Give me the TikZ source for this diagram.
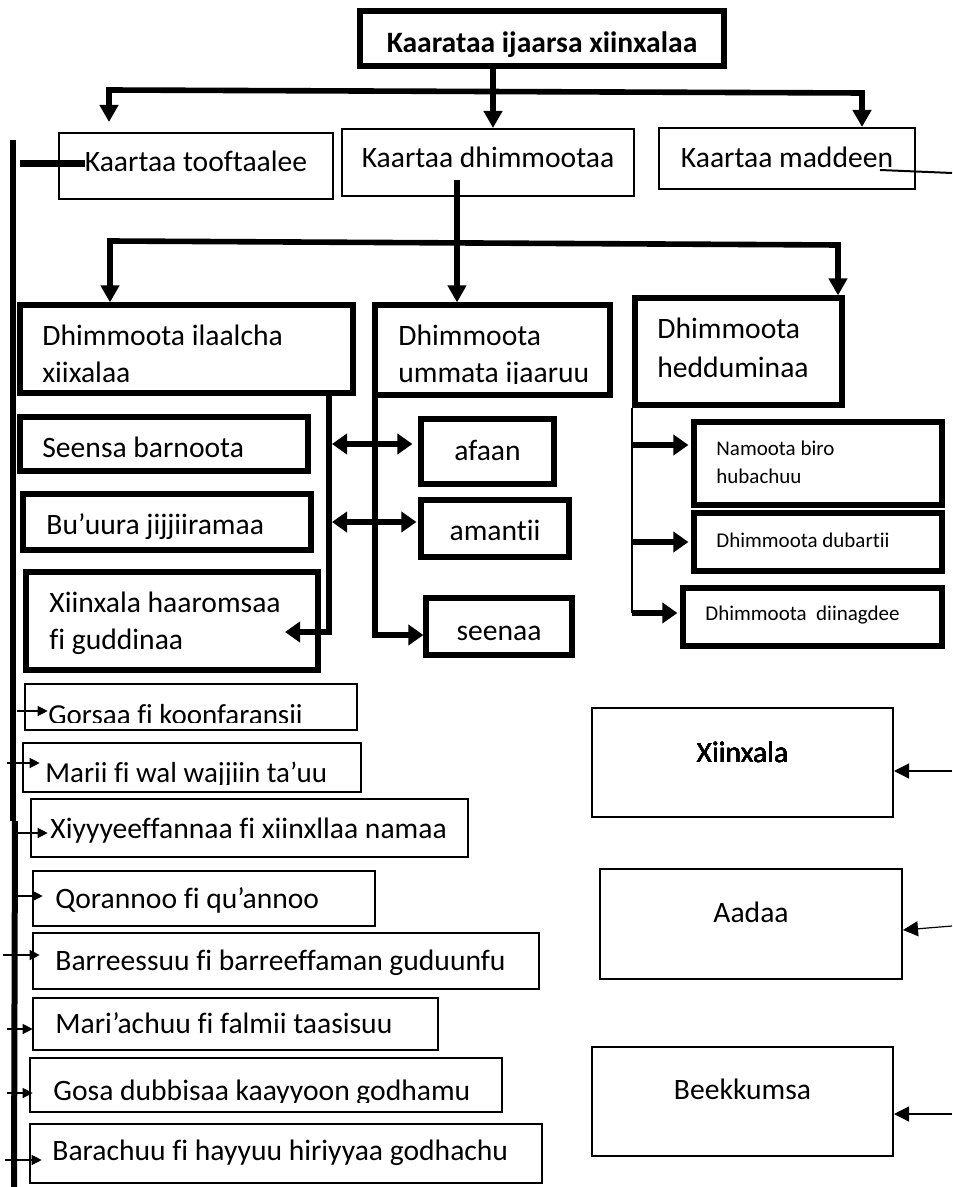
\documentclass[tikz,border=0pt]{standalone}
\usepackage{fontspec}
\setmainfont[Ligatures=NoCommon]{Carlito}
\usetikzlibrary{arrows.meta,fit,calc}
\newcommand\bodyfont{\fontsize{14.8}{18.5}\selectfont}
\newcommand\notefont{\fontsize{10.5}{14}\selectfont}
% text held inside the inner margin of its box
\newcommand\cutlabel[5]{%
  \begin{scope}
    \clip (#2.north west) rectangle ([yshift=#3]#2.south east);
    \node[lbl] (#1) at (#4) {#5};
  \end{scope}}

\begin{document}
\begin{tikzpicture}[
  x=0.5pt, y=-0.5pt,
  font=\bodyfont,
  every node/.style={inner sep=0pt},
  box/.style={draw, fit={#1}},
  thin box/.style={box={#1}, line width=1pt},
  list box/.style={box={#1}, line width=1.3pt},
  thick box/.style={box={#1}, line width=2.6pt},
  lbl/.style={anchor=base west, align=left},
  centred/.style={anchor=base},
  Big/.tip={Triangle[length=8.5pt,width=9pt]},
  Mid/.tip={Triangle[length=7.5pt,width=10pt]},
  Small/.tip={Triangle[length=5pt,width=5pt]},
  Point/.tip={Triangle[length=7.5pt,width=7.5pt]},
  bar/.style={line width=2.8pt},
  link/.style={line width=2.6pt},
  link arrow/.style={link, -Mid},
  both ways/.style={link, Mid-Mid},
  spine/.style={line width=3pt},
  fine/.style={line width=1pt},
  list arrow/.style={line width=0.6pt, -Small},
  pointer/.style={line width=0.6pt, -Point},
]
\useasboundingbox (0,0) rectangle (952,1187);

% boxes
\node[thick box={(360,11) (724,66)}] (head) {};
\node[thin box={(59,133) (333,199)}] (tooftaalee) {};
\node[thin box={(342,129) (634,196)}] (dhimmootaa) {};
\node[thin box={(659,128) (915,189)}] (maddeen) {};
\node[thick box={(20,305) (353,393)}] (ilaalcha) {};
\node[thick box={(375,305) (610,395)}] (ummata) {};
\node[thick box={(635,298) (842,405)}] (heddumina) {};
\node[thick box={(20,417) (308,471)}] (seensa) {};
\node[thick box={(23,494) (311,550)}] (buuura) {};
\node[thick box={(26,572) (318,670)}] (haaromsaa) {};
\node[thick box={(421,419) (554,484)}] (afaan) {};
\node[thick box={(421,500) (569,557)}] (amantii) {};
\node[thick box={(426,598) (572,655)}] (seenaa) {};
\node[thick box={(694,422) (942,505)}] (namoota) {};
\node[thick box={(694,513) (942,571)}] (dubartii) {};
\node[thick box={(683,588) (942,646)}] (diinagdee) {};
\foreach \n/\l/\t/\r/\b in {gorsaa/25/684/357/730, marii/23/743/361/792,
    xiyyeeffannaa/31/799/468/857, qorannoo/33/871/375/926,
    barreessuu/33/933/539/989, mariachuu/33/998/438/1050,
    gosa/30/1058/502/1112, barachuu/30/1124/542/1183}
  \node[list box={(\l,\t) (\r,\b)}] (\n) {};
\node[thin box={(592,708) (893,817)}] (xiinxala) {};
\node[thin box={(600,869) (902,979)}] (aadaa) {};
\node[thin box={(592,1047) (893,1156)}] (beekkumsa) {};

% texts (a two-line text sits on its last baseline)
\node[centred, font=\bodyfont\bfseries] (head-text) at (head.center |- 0,53) {Kaarataa ijaarsa xiinxalaa};
\node[centred] (tooftaalee-text) at (tooftaalee.center |- 0,172) {Kaartaa tooftaalee};
\node[centred] (dhimmootaa-text) at (dhimmootaa.center |- 0,168) {Kaartaa dhimmootaa};
\node[centred] (maddeen-text) at (maddeen.center |- 0,168) {Kaartaa maddeen};
\cutlabel{ilaalcha-text}{ilaalcha}{6pt}{42,382}{Dhimmoota ilaalcha\\xiixalaa}
\cutlabel{ummata-text}{ummata}{7pt}{398,382}{Dhimmoota\\ummata ijaaruu}
\node[lbl, font=\fontsize{14.8}{19.5}\selectfont] (heddumina-text) at (657,377) {Dhimmoota\\hedduminaa};
\node[lbl] (seensa-text) at (42,457) {Seensa barnoota};
\node[lbl] (buuura-text) at (46,534) {Bu’uura jijjiiramaa};
\node[lbl] (haaromsaa-text) at (49,649) {Xiinxala haaromsaa\\fi guddinaa};
\node[centred] (afaan-text) at (afaan.center |- 0,460) {afaan};
\node[centred] (amantii-text) at (amantii.center |- 0,540) {amantii};
\node[centred] (seenaa-text) at (seenaa.center |- 0,640) {seenaa};
\node[lbl, font=\notefont] (namoota-text) at (716,483) {Namoota biro\\hubachuu};
\node[lbl, font=\notefont] (dubartii-text) at (716,547) {Dhimmoota dubartii};
\node[lbl, font=\notefont] (diinagdee-text) at (705,620) {Dhimmoota\ \ diinagdee};
\foreach \n/\x/\y/\cut/\fs/\txt in {gorsaa/48/724/4.5pt/14.5/Gorsaa fi koonfaransii,
    marii/45/782/4.5pt/14.5/Marii fi wal wajjiin ta’uu,
    xiyyeeffannaa/50/838/0pt/14.8/Xiyyyeeffannaa fi xiinxllaa namaa,
    qorannoo/55/908/0pt/14.8/Qorannoo fi qu’annoo,
    barreessuu/55/970/0pt/14.8/Barreessuu fi barreeffaman guduunfu,
    mariachuu/55/1033/0pt/14.8/Mari’achuu fi falmii taasisuu,
    gosa/53/1100/5.5pt/14.8/Gosa dubbisaa kaayyoon godhamu,
    barachuu/52/1160/0pt/14.8/Barachuu fi hayyuu hiriyyaa godhachu}
  \cutlabel{\n-text}{\n}{\cut}{\x,\y}{\fontsize{\fs}{18}\selectfont\txt}
\node[centred] (xiinxala-text) at (xiinxala.center |- 0,762) {Xiinxala};
\node[centred] (aadaa-text) at (aadaa.center |- 0,922) {Aadaa};
\node[centred] (beekkumsa-text) at (beekkumsa.center |- 0,1099) {Beekkumsa};

% first level
\coordinate (bar1w) at (109,90);
\coordinate (bar1e) at (862,93);
\coordinate (stem1) at (493,91);
\draw[bar, Big-Big, shorten <=5pt] (bar1w |- tooftaalee.north) -- (bar1w) -- (bar1e) -- (bar1e |- maddeen.north);
\draw[bar, -Big] (stem1 |- head.south) -- (stem1 |- dhimmootaa.north);
\coordinate (m1) at (880,170);
\coordinate (m2) at (952,173);
\draw[fine] (m1) -- (m2);

% second level
\coordinate (stem2) at (457,180);
\coordinate (bar2w) at (110,241);
\coordinate (bar2e) at (838,245);
\draw[bar, Big-Big] (bar2w |- ilaalcha.north) -- (bar2w) -- (bar2e) -- (bar2e |- heddumina.north);
\draw[bar, -Big] (stem2) -- (stem2 |- ummata.north);

% ilaalcha and ummata
\coordinate (drop1) at (329,632);
\coordinate (drop2) at (375,635);
\draw[link arrow] (drop1 |- ilaalcha.south) -- (drop1) -- +(-44,0);
\draw[link arrow] (drop2 |- ummata.south) -- (drop2) -- (drop2 -| seenaa.west);
\draw[both ways, shorten <=1.5pt, shorten >=3pt] (drop1 |- seensa.east) -- (seensa.east -| afaan.west);
\draw[both ways, shorten <=1.5pt, shorten >=1pt] (drop1 |- buuura.east) -- (buuura.east -| amantii.west);

% heddumina
\draw[fine] (heddumina.south west) -- (heddumina.south west |- 0,613);
\foreach \n/\y in {namoota/445, dubartii/542, diinagdee/613}
  \draw[link arrow, shorten >=1.5pt] (heddumina.south west |- 0,\y) -- (\n.west |- 0,\y);

% tooftaalee list
\coordinate (spine top) at (13,140);
\coordinate (spine joint) at (13,821);
\coordinate (spine foot) at (14,1187);
\draw[spine] (spine top) -- (spine joint);
\draw[spine] ([xshift=1pt]spine joint) -- (spine foot);
\coordinate (t1) at (20,163.5);
\draw[line width=3.5pt] (t1) -- (tooftaalee-text.west |- t1);
\foreach \n/\s/\e/\y in {gorsaa/17/24/711, marii/7/18/763, xiyyeeffannaa/17/18/833,
    qorannoo/17/11/896, barreessuu/3/8/955, mariachuu/7/1/1029,
    gosa/7/4/1093, barachuu/5/13/1160}
  \draw[list arrow] (\s,\y) -- ($(\n.west |- 0,\y)+(\e,0)$);

% right side
\coordinate (r1) at (952,771);
\coordinate (r2) at (952,926);
\coordinate (r3) at (952,1114);
\draw[pointer] (r1) -- (xiinxala.east |- r1);
\draw[pointer] (r2) -- ([yshift=-3pt]aadaa.east);
\draw[pointer] (r3) -- (beekkumsa.east |- r3);
\end{tikzpicture}
\end{document}
